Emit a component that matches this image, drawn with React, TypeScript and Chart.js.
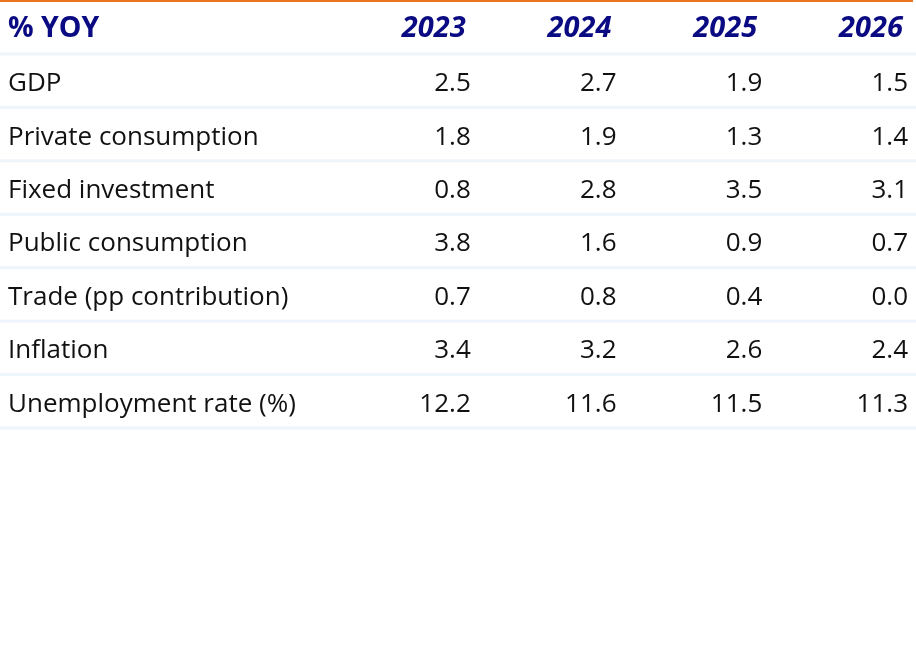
import React, { useEffect, useRef } from "react";
import { Chart, registerables } from "chart.js";

Chart.register(...registerables);

const headerLabel = "% YOY";
const years = ["2023", "2024", "2025", "2026"];
const rowLabels = [
  "GDP",
  "Private consumption",
  "Fixed investment",
  "Public consumption",
  "Trade (pp contribution)",
  "Inflation",
  "Unemployment rate (%)",
];
const gdp = [2.5, 2.7, 1.9, 1.5];
const privateConsumption = [1.8, 1.9, 1.3, 1.4];
const fixedInvestment = [0.8, 2.8, 3.5, 3.1];
const publicConsumption = [3.8, 1.6, 0.9, 0.7];
const tradeContribution = [0.7, 0.8, 0.4, 0.0];
const inflation = [3.4, 3.2, 2.6, 2.4];
const unemploymentRate = [12.2, 11.6, 11.5, 11.3];

const rowValues = [
  gdp,
  privateConsumption,
  fixedInvestment,
  publicConsumption,
  tradeContribution,
  inflation,
  unemploymentRate,
];

const FONT = "'Open Sans', 'Noto Sans', sans-serif";
const NAVY = "#0a0a82";
const ROW_SIZE = 26;

const tablePlugin = {
  id: "tablePlugin",
  afterDraw(chart: any) {
    const ctx = chart.ctx;
    const xs = chart.scales.x;
    const ys = chart.scales.y;
    const area = chart.chartArea;
    const W = chart.width;
    ctx.save();
    // orange top rule
    ctx.fillStyle = "#ec7420";
    ctx.fillRect(0, 0, W - 3, 2);
    // row separators
    const rowH = ys.getPixelForValue(1) - ys.getPixelForValue(0);
    ctx.fillStyle = "#eef5fb";
    for (let i = 0; i <= rowLabels.length; i++) {
      const y = ys.getPixelForValue(i) - rowH / 2;
      ctx.fillRect(0, y - 1.5, W, 3);
    }
    // header
    const headY = area.top / 2 + 2;
    ctx.fillStyle = NAVY;
    ctx.textBaseline = "middle";
    ctx.font = `bold 28.5px ${FONT}`;
    ctx.textAlign = "left";
    ctx.fillText(headerLabel, 8, headY);
    const colW = xs.getPixelForValue(1) - xs.getPixelForValue(0);
    ctx.font = `italic bold 29px ${FONT}`;
    ctx.textAlign = "right";
    years.forEach((yr, j) => {
      const x = xs.getPixelForValue(j) + colW / 2 - 13;
      ctx.fillText(yr, x, headY);
    });
    // values
    ctx.fillStyle = "#111111";
    ctx.font = `${ROW_SIZE}px ${FONT}`;
    rowValues.forEach((vals, i) => {
      const y = ys.getPixelForValue(i) + 3;
      vals.forEach((v, j) => {
        const x = xs.getPixelForValue(j) + colW / 2 - 8;
        ctx.fillText(v.toFixed(1), x, y);
      });
    });
    ctx.restore();
  },
};

export default function App() {
  const ref = useRef<HTMLCanvasElement | null>(null);
  useEffect(() => {
    document.body.style.margin = "0";
    const chart = new Chart(ref.current as HTMLCanvasElement, {
      type: "bar",
      data: {
        labels: years,
        datasets: [],
      },
      options: {
        animation: false,
        responsive: false,
        layout: { padding: { left: 8, top: 0, right: 0, bottom: 232 } },
        plugins: { legend: { display: false }, tooltip: { enabled: false } },
        scales: {
          x: {
            type: "category",
            position: "top",
            grid: { display: false },
            border: { display: false },
            ticks: { display: false },
            afterFit: (s: any) => {
              s.height = 54;
            },
          },
          y: {
            type: "category",
            labels: rowLabels,
            offset: true,
            grid: { display: false },
            border: { display: false },
            ticks: {
              crossAlign: "far",
              padding: 0,
              labelOffset: 3,
              color: "#111111",
              font: { family: FONT, size: ROW_SIZE },
            },
            afterFit: (s: any) => {
              s.width = 325;
            },
          },
        },
      },
      plugins: [tablePlugin],
    } as any);
    return () => chart.destroy();
  }, []);
  return (
    <div style={{ position: "absolute", left: 0, top: 0, width: 916, height: 660, background: "#fff" }}>
      <canvas ref={ref} width={916} height={660} style={{ display: "block" }} />
    </div>
  );
}
